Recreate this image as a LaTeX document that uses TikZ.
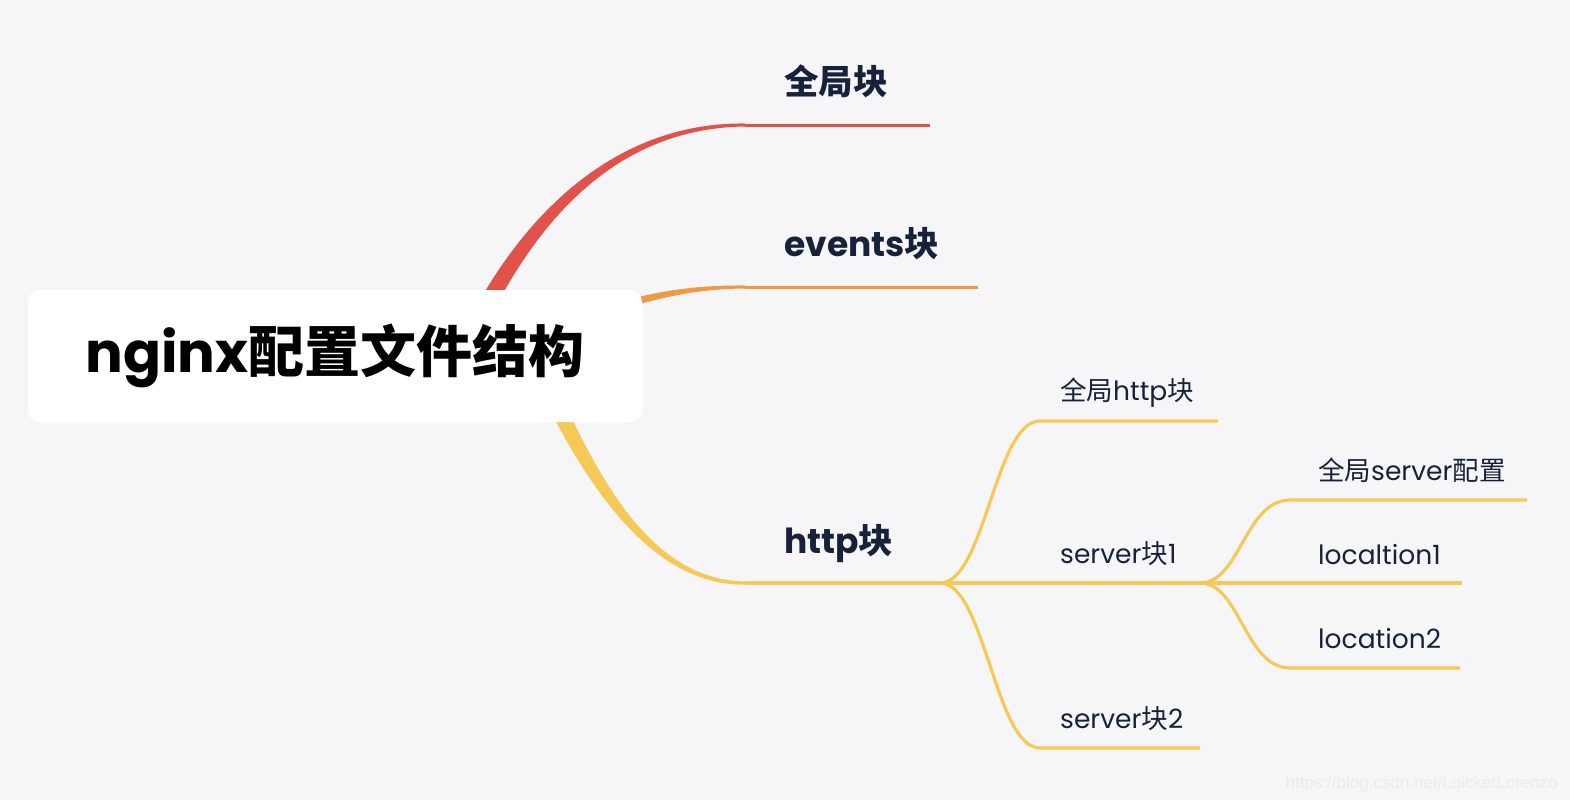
\documentclass[tikz,border=0pt]{standalone}
\usepackage{fontspec}
\setmainfont{Poppins}
\newfontfamily\cjkfont{Noto Sans CJK SC}
\newfontfamily\markfont{Liberation Sans}
\usetikzlibrary{backgrounds}
\definecolor{canvas}{HTML}{F6F6F8}
\definecolor{ink}{HTML}{17213A}
\definecolor{brred}{HTML}{E0524A}
\definecolor{brorange}{HTML}{EE9A45}
\definecolor{bryellow}{HTML}{F6C856}
\newcommand{\hz}[1]{{\cjkfont #1}}
\tikzset{
  root_box/.style={fill=white,rounded corners=12pt,minimum width=614pt,minimum height=132pt,
    inner sep=0pt,font=\fontsize{56}{62}\selectfont\bfseries},
  lvl_one/.style={anchor=base west,inner sep=0pt,text=ink,font=\fontsize{34.5}{40}\selectfont\bfseries},
  lvl_two/.style={anchor=base west,inner sep=0pt,text=ink,font=\fontsize{26.5}{30}\selectfont},
  line_red/.style={draw=brred,line width=3pt},
  line_orange/.style={draw=brorange,line width=3pt},
  line_yel/.style={draw=bryellow,line width=3.2pt},
}

\begin{document}
\begin{tikzpicture}[x=1pt,y=-1pt]
    \useasboundingbox (0,0) rectangle (1570,800);
    \node[root_box] (root) at (335,356) {nginx\hz{配置文件结构}};

    % main branches
    \coordinate (gs) at (745,125);  \coordinate (ge) at (930,125);
    \coordinate (es) at (745,287);  \coordinate (ee) at (978,287);
    \coordinate (hs) at (745,583);  \coordinate (hj) at (940,583);
    \node[lvl_one] (glob) at (784,94) {\hz{全局块}};
    \node[lvl_one] (events) at (784,256) {events\hz{块}};
    \node[lvl_one] (http) at (784,553) {http\hz{块}};

    % http children
    \coordinate (hgs) at (1040,421); \coordinate (hge) at (1218,421);
    \coordinate (sj) at (1200,583);
    \coordinate (s2s) at (1040,748); \coordinate (s2e) at (1200,748);
    \node[lvl_two] (hglob) at (1060,400) {\hz{全局}http\hz{块}};
    \node[lvl_two] (srv1) at (1060,563) {server\hz{块}1};
    \node[lvl_two] (srv2) at (1060,728) {server\hz{块}2};

    % server children
    \coordinate (sgs) at (1290,500); \coordinate (sge) at (1527,500);
    \coordinate (l1e) at (1462,583);
    \coordinate (l2s) at (1290,668); \coordinate (l2e) at (1460,668);
    \node[lvl_two] (sglob) at (1318,480) {\hz{全局}server\hz{配置}};
    \node[lvl_two] (loc1) at (1318,564) {localtion1};
    \node[lvl_two] (loc2) at (1318,648) {location2};

    \node[anchor=base east,inner sep=0pt,text=black!8,font=\markfont\fontsize{17}{20}\selectfont]
      (mark) at (1558,788) {https://blog.csdn.net/LoicketLorenzo};

    \begin{scope}[on background layer]
      \fill[canvas] (0,0) rectangle (1570,800);
      % tapered trunks
      \fill[brred] (465.8,326.2) .. controls (528.7,201.9) and (625,122) .. (745,123.5)
        -- (745,126.5) .. controls (625,128) and (541.3,208.1) .. (482.2,333.8) -- cycle;
      \fill[brorange] (598.8,308.2) .. controls (648.8,292.2) and (690,285) .. (745,285.5)
        -- (745,288.5) .. controls (690,289) and (651.2,299.8) .. (601.2,315.8) -- cycle;
      \fill[bryellow] (548.2,366.3) .. controls (596.4,477.1) and (650,580) .. (745,581.4)
        -- (745,584.6) .. controls (650,586) and (583.6,482.9) .. (531.8,373.7) -- cycle;
      \draw[line_red] (gs) -- (ge);
      \draw[line_orange] (es) -- (ee);
      \draw[line_yel] (hs) -- (hj);
      \draw[line_yel] (hj) .. controls +(45,0) and +(-45,0) .. (hgs) -- (hge);
      \draw[line_yel] (hj) -- (sj);
      \draw[line_yel] (hj) .. controls +(45,0) and +(-45,0) .. (s2s) -- (s2e);
      \draw[line_yel] (sj) .. controls +(40,0) and +(-45,0) .. (sgs) -- (sge);
      \draw[line_yel] (sj) -- (l1e);
      \draw[line_yel] (sj) .. controls +(40,0) and +(-45,0) .. (l2s) -- (l2e);
    \end{scope}
\end{tikzpicture}
\end{document}
